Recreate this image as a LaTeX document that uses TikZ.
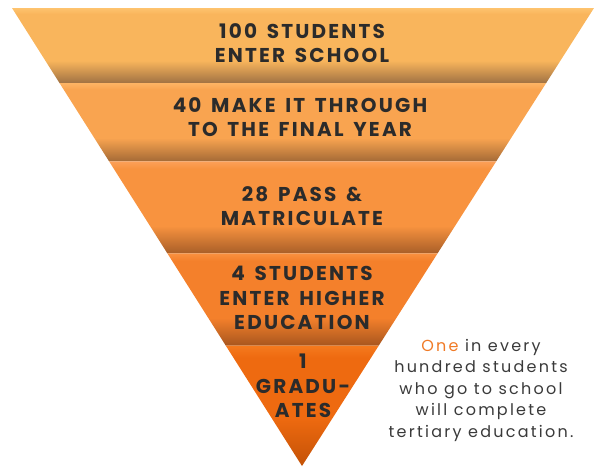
\documentclass[tikz,border=0pt]{standalone}
\usepackage{fontspec}
\setmainfont{Poppins}
\newfontfamily\levelfont{Poppins}[LetterSpace=11,WordSpace=1.5]
\newfontfamily\notefont{Poppins}[LetterSpace=14]
\usetikzlibrary{calc}

\definecolor{inktext}{HTML}{2B2B2B}
\definecolor{inknote}{HTML}{3A3A3A}
\definecolor{oneorange}{HTML}{F07A26}

\definecolor{bandAtop}{HTML}{FEC36E}
\definecolor{bandAmid}{HTML}{F9B55C}
\definecolor{bandAlow}{HTML}{A07243}
\definecolor{bandBtop}{HTML}{FDB464}
\definecolor{bandBmid}{HTML}{F9A450}
\definecolor{bandBlow}{HTML}{A46A36}
\definecolor{bandCtop}{HTML}{FCA058}
\definecolor{bandCmid}{HTML}{F8933F}
\definecolor{bandClow}{HTML}{A85E28}
\definecolor{bandDtop}{HTML}{F9903F}
\definecolor{bandDmid}{HTML}{F4802B}
\definecolor{bandDlow}{HTML}{A8561E}
\definecolor{bandEtop}{HTML}{F57A1E}
\definecolor{bandEmid}{HTML}{EE6A10}
\definecolor{bandElow}{HTML}{C45206}

\pgfdeclareverticalshading{bandA}{100bp}{color(0bp)=(bandAlow); color(25bp)=(bandAlow);
  color(40bp)=(bandAmid); color(71bp)=(bandAmid); color(75bp)=(bandAtop); color(100bp)=(bandAtop)}
\pgfdeclareverticalshading{bandB}{100bp}{color(0bp)=(bandBlow); color(25bp)=(bandBlow);
  color(40bp)=(bandBmid); color(71bp)=(bandBmid); color(75bp)=(bandBtop); color(100bp)=(bandBtop)}
\pgfdeclareverticalshading{bandC}{100bp}{color(0bp)=(bandClow); color(25bp)=(bandClow);
  color(40bp)=(bandCmid); color(71bp)=(bandCmid); color(75bp)=(bandCtop); color(100bp)=(bandCtop)}
\pgfdeclareverticalshading{bandD}{100bp}{color(0bp)=(bandDlow); color(25bp)=(bandDlow);
  color(40bp)=(bandDmid); color(71bp)=(bandDmid); color(75bp)=(bandDtop); color(100bp)=(bandDtop)}
\pgfdeclareverticalshading{bandE}{100bp}{color(0bp)=(bandElow); color(25bp)=(bandElow);
  color(45bp)=(bandEmid); color(70bp)=(bandEmid); color(75bp)=(bandEtop); color(100bp)=(bandEtop)}

\begin{document}
\begin{tikzpicture}[x=1pt, y=-1pt,
                    level/.style={font=\levelfont\fontsize{20}{24.5}\selectfont\bfseries, text=inktext, align=center, inner sep=0pt},
                    note/.style={font=\notefont\fontsize{16}{21.5}\selectfont, text=inknote, align=center, inner sep=0pt}]
\useasboundingbox (0,0) rectangle (596,466);

\coordinate (tl) at (12,8);
\coordinate (tr) at (594,8);
\coordinate (apex) at (302,466);

% funnel bands
\foreach \a/\b/\sh in {0/0.164/bandA, 0.164/0.335/bandB, 0.335/0.536/bandC, 0.536/0.737/bandD, 0.737/1/bandE}
  \shade[shading=\sh] ($(tl)!\a!(apex)$) -- ($(tr)!\a!(apex)$) -- ($(tr)!\b!(apex)$) -- ($(tl)!\b!(apex)$) -- cycle;

\node[level] (enter)  at (302,43)  {100 STUDENTS\\ENTER SCHOOL};
\node[level] (final)  at (300,117) {40 MAKE IT THROUGH\\TO THE FINAL YEAR};
\node[level] (matric) at (302,206) {28 PASS \&\\MATRICULATE};
\node[level] (higher) at (302,298) {4 STUDENTS\\ENTER HIGHER\\EDUCATION};
\node[level] (grad)   at (303,386) {1\\GRADU-\\ATES};

\node[note] (oneof) at (481,390) {\textcolor{oneorange}{One} in every\\hundred students\\who go to school\\will complete\\tertiary education.};
\end{tikzpicture}
\end{document}
